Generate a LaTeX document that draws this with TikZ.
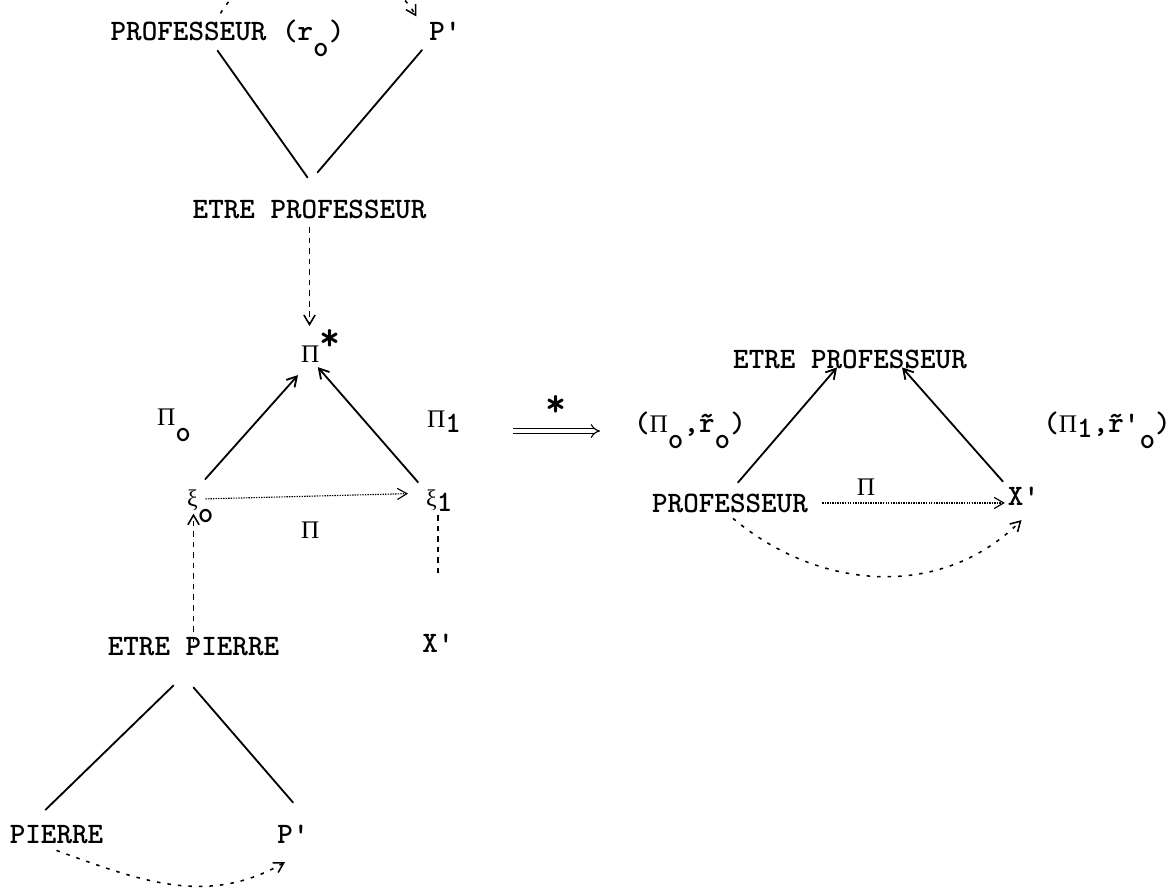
\documentclass[tikz,border=0pt]{standalone}
\usepackage{fontspec}
\usepackage{tikz}
\usetikzlibrary{arrows.meta, calc}
\newfontfamily\grk{Liberation Serif}
\newcommand\low[1]{\raisebox{-0.55em}{#1}}
\newcommand\gk[2][18]{{\grk\mdseries\fontsize{#1}{#1}\selectfont #2}}
\newcommand\bigstar{\scalebox{1.35}{*}}
\tikzset{
  >={Straight Barb[length=2.4mm, width=2.8mm]},
  txt/.style={font=\fontsize{21.1}{25}\selectfont\ttfamily\bfseries, inner sep=2pt, anchor=base},
  gr/.style={txt, anchor=base west},
  link/.style={line width=1.3pt, line cap=round},
  arr/.style={link, ->},
  dashline/.style={line width=1.1pt, dash pattern=on 4pt off 3.5pt},
  darr/.style={dashline, ->},
  arcarr/.style={line width=1.1pt, dash pattern=on 2.5pt off 5pt, ->},
  dotarr/.style={line width=0.8pt, dash pattern=on 1pt off 0.8pt, ->},
  implies/.style={double, double distance=2.6pt, line width=0.8pt, -{Implies}},
}

\begin{document}
\begin{tikzpicture}[x=0.025cm, y=-0.025cm]
\useasboundingbox (0,0) rectangle (1176,889);

% left column
\node[txt] (profr)      at (227.5,40) {PROFESSEUR (r\low{o})};
\node[txt] (ptop)       at (445,40)   {P'};
\node[txt] (etreprof)   at (309.5,218) {ETRE PROFESSEUR};
\node[gr]  (pistar)     at (298,362)  {\gk{Π}\raisebox{0.4em}{\bigstar}};
\node[gr]  (pi0)        at (154,425)  {\gk{Π}\low{o}};
\node[gr]  (pi1)        at (424,427)  {\gk{Π}\raisebox{-0.2em}{1}};
\node[gr]  (xi0)        at (184,506)  {\gk[17]{ξ}\low{o}};
\node[gr]  (xi1)        at (423,506)  {\gk[17]{ξ}\raisebox{-0.2em}{1}};
\node[gr]  (pimid)      at (298,538)  {\gk{Π}};
\node[txt] (xl)         at (438,652)  {X'};
\node[txt] (etrepierre) at (193.5,655) {ETRE PIERRE};
\node[txt] (pierre)     at (56.5,843) {PIERRE};
\node[txt] (pbot)       at (293,843)  {P'};

% right side
\coordinate (imp0) at (513,431);
\coordinate (imp1) at (600,431);
\node[txt] (pi0r)      at (690,432)   {(\gk{Π}\low{o},\~{r}\low{o})};
\node[txt] (etreprofr) at (850,368)   {ETRE PROFESSEUR};
\node[txt] (pi1r)      at (1107,432)  {(\gk{Π}\raisebox{-0.2em}{1},\~{r}'\low{o})};
\node[txt] (professr)  at (730,512)   {PROFESSEUR};
\node[txt] (xr)        at (1023.5,505) {X'};

% upper tree
\draw[link] ([shift={(-10,-9)}]profr.south) -- ([shift={(-2,-19)}]etreprof.north);
\draw[link] ([shift={(-23,7)}]ptop.south) -- ([shift={(8,-24)}]etreprof.north);
\draw[arcarr] ([shift={(-7,-3)}]profr.north) to[out=60, in=120] ([shift={(-10,-2)}]ptop.north west);
\draw[darr] ([yshift=-4pt]etreprof.south) -- (etreprof.south |- pistar.north);

% triangle
\draw[arr] ([shift={(5,-7)}]xi0.north) -- ([shift={(0,10)}]pistar.south west);
\draw[arr] ([shift={(-5,-4)}]xi1.north west) -- ([shift={(-3,2)}]pistar.south);
\draw[dotarr] ([shift={(-11,-7)}]xi0.east) -- ([shift={(-15,-7)}]xi1.west);

% lower tree
\draw[darr] ([yshift=-6pt]etrepierre.north) -- ($(etrepierre.north |- xi0.south)+(0,-12)$);
\draw[dashline, shorten >=1.35cm] (xi1.south -| xl.north) -- (xl.north);
\draw[link] ([shift={(-20,27)}]etrepierre.south) -- ([shift={(-11,-12)}]pierre.north);
\draw[link] ([shift={(0,29)}]etrepierre.south) -- ([shift={(0,-19)}]pbot.north);
\draw[arcarr] ([shift={(0,4)}]pierre.south) to[out=-20, in=-150] ([shift={(-8,16)}]pbot.south);

% derived structure
\draw[implies] (imp0) -- node[txt, anchor=base, yshift=10pt] (star) {\bigstar} (imp1);
\draw[arr] ([shift={(8,-8)}]professr.north) -- ([shift={(-13,-4)}]etreprofr.south);
\draw[arr] ([shift={(-2,-2)}]xr.north west) -- ([shift={(52,-4)}]etreprofr.south);
\draw[dotarr] ([xshift=8pt]professr.east) -- (professr.east -| xr.west)
  node[pos=0.24, above=3pt, gr, anchor=south] (pilab) {\gk{Π}};
\draw[arcarr] ([shift={(3,3)}]professr.south) to[out=-40, in=-135] ([shift={(-2,12)}]xr.south);

\end{tikzpicture}
\end{document}
